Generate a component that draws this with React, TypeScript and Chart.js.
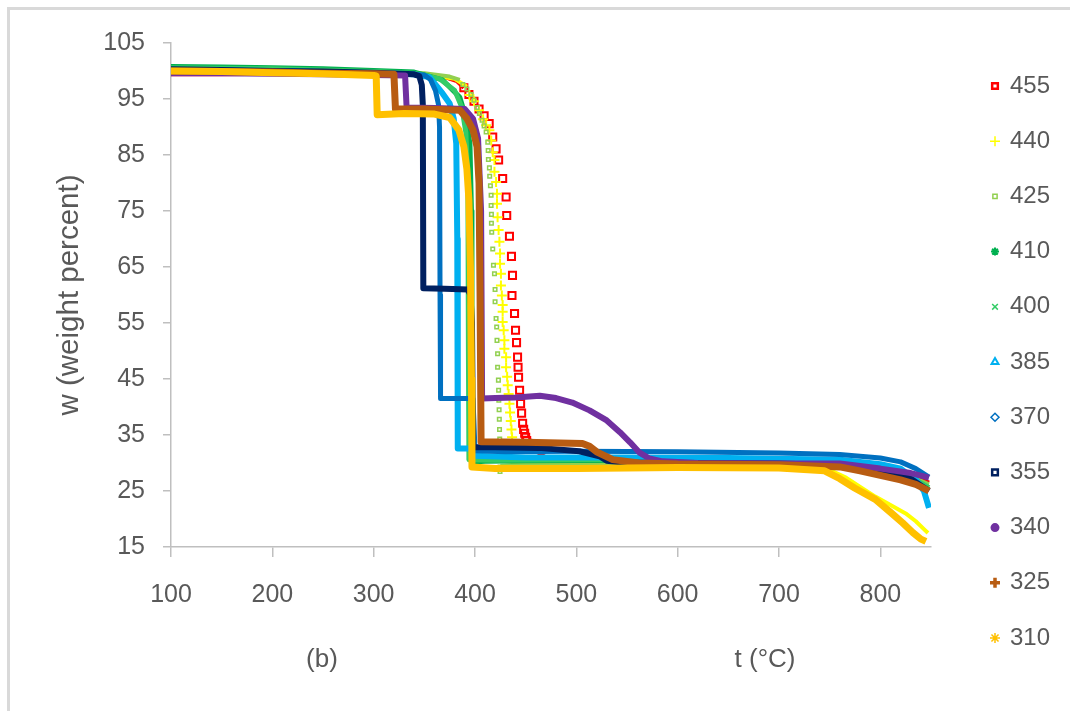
import React, { useEffect, useRef } from "react";
import { Chart, registerables } from "chart.js";
import { drawPoint } from "chart.js/helpers";

Chart.register(...registerables);

// ---------- data (x = temperature °C, y = weight percent) ----------
const xTicks = [100, 200, 300, 400, 500, 600, 700, 800];
const yTicks = [15, 25, 35, 45, 55, 65, 75, 85, 95, 105];
const seriesLabels = ["455", "440", "425", "410", "400", "385", "370", "355", "340", "325", "310"];

// 455 : dense plateau, discrete fall, dense residue
const s455Top: [number, number][] = [[100, 99.4], [150, 99.4], [200, 99.5], [250, 99.4], [300, 99.4], [340, 99.3], [370, 98.9], [382, 98.2], [389, 97.0]];
const s455Drop: [number, number][] = [[389, 97.0], [394, 95.8], [399, 94.6], [404, 93.2], [409, 92.0], [414, 90.6], [417.5, 88.2], [420.8, 86.1], [423.3, 84.1], [427.3, 80.8], [430.7, 77.5], [431.3, 74.2], [434, 70.5], [436, 66.9], [437, 63.5], [436.5, 59.9], [439, 56.7], [440, 53.7], [441, 51.5], [442, 48.9], [442.5, 47.1], [443, 45.3], [444, 43.0], [445, 40.6], [446, 38.9], [447, 37.1], [448, 36.0], [449, 35.3], [450, 34.6], [451, 34.0], [452, 33.5]];
const s455Base: [number, number][] = [[452, 33.0], [470, 31.0], [520, 30.6], [600, 30.5], [700, 30.4], [760, 30.2], [800, 29.2], [830, 28.0], [848, 26.5]];

// 440
const s440Top: [number, number][] = [[100, 99.9], [150, 99.9], [200, 99.8], [250, 99.7], [300, 99.6], [350, 99.4], [380, 98.6], [392, 97.2]];
const s440Drop: [number, number][] = [[394.5, 95.7], [399, 94.6], [404, 93.0], [408, 91.4], [411, 90.3], [414.2, 89.4], [416, 87.6], [417.5, 85.5], [419.2, 84.1], [419.2, 82.0], [420.8, 80.2], [421.7, 78.1], [421.7, 76.3], [422.3, 73.9], [423.3, 71.6], [424.1, 69.5], [424.7, 67.4], [424.7, 65.6], [425.6, 63.8], [425.6, 61.7], [426.5, 59.9], [427.3, 58.2], [427.3, 57.0], [427.3, 55.2], [428.3, 53.7], [429, 51.9], [429, 50.4], [430.7, 48.9], [430.7, 47.1], [431.7, 45.4], [432.3, 43.9], [433.2, 42.3], [434, 40.6], [434.6, 39.0], [435.3, 37.5], [436, 36.0], [436.6, 34.6]];
const s440Base: [number, number][] = [[437, 31.0], [460, 30.0], [520, 29.8], [600, 29.8], [700, 29.7], [745, 29.2], [765, 27.5], [782, 25.5], [795, 24.0], [810, 22.5], [825, 21.0], [835, 19.6], [843, 18.2], [847, 17.5]];

// 425
const s425Top: [number, number][] = [[100, 100.4], [150, 100.4], [200, 100.2], [250, 100.1], [300, 99.9], [350, 99.6], [375, 99.0], [385, 98.4]];
const s425Drop: [number, number][] = [[388, 97.6], [392, 96.8], [396, 95.8], [399, 94.8], [402, 93.5], [404.3, 92.4], [407, 91.2], [409, 90.2], [411, 89.1], [412.6, 87.3], [413, 85.8], [413.2, 84.2], [414.2, 82.7], [414.5, 81.2], [415.2, 79.5], [415.9, 77.8], [415.9, 76.0], [416.2, 74.4], [416.2, 72.8], [416.5, 71.2], [417.5, 68.2], [418.2, 65.3], [419.2, 63.8], [419.8, 61.0], [419.8, 58.8], [420.8, 55.8], [421.4, 54.3], [421.7, 51.9], [422.3, 49.5], [422.3, 47.1], [423.1, 44.8], [423.3, 43.0], [423.5, 41.2], [423.8, 39.5], [424, 37.8], [424.2, 36.0], [424.4, 34.3], [424.5, 32.6], [424.6, 30.9], [424.7, 29.3], [424.7, 28.5]];
const s425Base: [number, number][] = [[425, 29.5], [460, 29.9], [550, 30.0], [650, 30.0], [760, 29.8], [800, 28.8], [830, 27.6], [848, 26.2]];

// 410 .. 310 : dense traces
const s410: [number, number][] = [[100, 100.8], [150, 100.7], [200, 100.6], [250, 100.4], [300, 100.1], [340, 99.8], [368, 98.4], [385, 95.3], [391, 91.7], [395, 87.0], [396.5, 75.0], [397, 50], [397.5, 30.2], [410, 30.3], [450, 30.4], [550, 30.5], [650, 30.4], [760, 30.0], [800, 28.8], [830, 27.2], [848, 25.2]];
const s400: [number, number][] = [[100, 100.6], [150, 100.5], [200, 100.4], [250, 100.2], [300, 99.9], [340, 99.6], [365, 98.6], [380, 96.5], [387, 93.5], [391, 89.0], [393, 80], [393.5, 50], [394, 30.6], [420, 30.5], [500, 30.6], [600, 30.7], [700, 30.6], [760, 30.2], [800, 29.0], [830, 27.5], [848, 25.6]];
const s385: [number, number][] = [[100, 100.1], [150, 100.1], [200, 100.0], [250, 99.8], [300, 99.6], [340, 99.4], [355, 98.9], [368, 96.0], [375, 94.2], [379, 91.5], [381.5, 87], [382.5, 70], [383, 32.6], [397, 32.6], [400, 31.3], [450, 31.0], [550, 31.0], [650, 30.9], [760, 30.6], [800, 29.8], [820, 29.0], [835, 27.0], [843, 25.0], [848, 22.0]];
const s370: [number, number][] = [[100, 100.2], [150, 100.2], [200, 100.0], [250, 99.9], [300, 99.6], [350, 99.3], [356, 98.5], [361, 96.5], [364, 94.0], [365, 90], [365.5, 60], [366, 41.5], [398, 41.5], [399, 37], [400, 32.2], [430, 32.0], [500, 32.1], [600, 32.0], [700, 31.8], [760, 31.5], [800, 30.9], [820, 30.2], [835, 29.0], [848, 27.5]];
const s355: [number, number][] = [[100, 100.3], [150, 100.2], [200, 100.0], [250, 99.9], [300, 99.7], [340, 99.4], [345, 99.1], [347.5, 97.5], [348.5, 94], [349, 61.2], [370, 61.1], [393, 61.0], [395.5, 60], [397, 55], [398, 32.8], [420, 32.8], [463, 32.7], [503, 32.1], [523, 31.2], [530, 30.4], [545, 30.1], [620, 30.0], [700, 29.9], [760, 29.6], [800, 28.6], [830, 27.2], [848, 25.0]];
const s340: [number, number][] = [[100, 99.6], [150, 99.6], [200, 99.5], [250, 99.4], [300, 99.3], [331, 99.2], [332.5, 93.5], [360, 93.4], [390, 93.2], [398, 91.5], [403, 88.0], [406, 75], [407, 41.5], [420, 41.6], [440, 41.7], [464, 42.0], [480, 41.6], [496, 40.8], [513, 39.4], [530, 37.6], [543, 35.5], [553, 33.7], [562, 31.9], [572, 30.8], [585, 30.3], [620, 30.0], [700, 29.9], [760, 29.9], [800, 29.0], [830, 28.2], [848, 27.4]];
const s325: [number, number][] = [[100, 100.0], [150, 99.9], [200, 99.8], [250, 99.6], [300, 99.5], [320, 99.4], [321.5, 93.2], [350, 93.2], [385, 93.0], [392, 91.5], [398, 89.5], [402, 86.5], [404, 80], [405, 60], [406, 33.8], [450, 33.7], [506, 33.5], [513, 33.0], [520, 32.0], [536, 30.6], [562, 30.0], [600, 29.8], [700, 29.7], [760, 29.3], [780, 28.6], [800, 27.8], [820, 27.0], [835, 26.2], [848, 25.0]];
const s310: [number, number][] = [[100, 100.0], [150, 99.9], [200, 99.7], [250, 99.5], [300, 99.2], [302.5, 99.1], [303.5, 92.2], [330, 92.4], [360, 92.3], [375, 91.7], [384, 89.5], [389, 86.5], [392, 82.5], [394, 77], [395.5, 65], [396.5, 45], [397, 29.3], [420, 29.0], [500, 29.0], [600, 29.2], [700, 29.1], [745, 28.6], [760, 27.2], [775, 25.5], [795, 23.5], [810, 21.2], [822, 19.3], [832, 17.6], [840, 16.4], [845, 16.0]];

// ---------- styles ----------
const TEXT = "#595959";
const AXIS = "#BFBFBF";
const FONT = "'Liberation Sans', Arial, sans-serif";

const colors: Record<string, string> = {
  "455": "#FF0000", "440": "#FFFF00", "425": "#92D050", "410": "#00B050", "400": "#33CC66",
  "385": "#00B0F0", "370": "#0070C0", "355": "#002060", "340": "#7030A0", "325": "#B85C12", "310": "#FFC000",
};
const legendStyles: Record<string, { style: string; r: number; w: number; fill: boolean }> = {
  "455": { style: "rect", r: 4, w: 2.5, fill: false },
  "440": { style: "cross", r: 5, w: 1.5, fill: false },
  "425": { style: "rect", r: 3, w: 1.5, fill: false },
  "410": { style: "star", r: 4, w: 2, fill: false },
  "400": { style: "crossRot", r: 4, w: 1.5, fill: false },
  "385": { style: "triangle", r: 4, w: 2, fill: false },
  "370": { style: "rectRot", r: 4, w: 1.5, fill: false },
  "355": { style: "rect", r: 4, w: 2.5, fill: false },
  "340": { style: "circle", r: 3.5, w: 2, fill: true },
  "325": { style: "cross", r: 5, w: 3.5, fill: false },
  "310": { style: "star", r: 5, w: 1.5, fill: false },
};

const pts = (a: [number, number][]) => a.map(([x, y]) => ({ x, y }));
const orderOf = (label: string) => 10 - seriesLabels.indexOf(label);

function lineDs(label: string, data: [number, number][], width: number) {
  return {
    label,
    data: pts(data),
    showLine: true,
    borderColor: colors[label],
    backgroundColor: colors[label],
    borderWidth: width,
    pointRadius: 0,
    tension: 0,
    borderJoinStyle: "round" as const,
    order: orderOf(label),
  };
}
function markDs(label: string, data: [number, number][], style: string, r: number, w: number) {
  return {
    label,
    data: pts(data),
    showLine: false,
    pointStyle: style,
    pointRadius: r,
    pointBorderWidth: w,
    pointBorderColor: colors[label],
    pointBackgroundColor: "rgba(255,255,255,0)",
    borderColor: colors[label],
    backgroundColor: "rgba(255,255,255,0)",
    order: orderOf(label) - 0.5,
  };
}

const LEGEND_MARK_X = 995;
const LEGEND_TEXT_X = 1010;
const LEGEND_TOP = 86;
const LEGEND_STEP = 55.2;

const overlayPlugin = {
  id: "overlay",
  afterDraw(chart: any) {
    const ctx = chart.ctx as CanvasRenderingContext2D;
    ctx.save();
    seriesLabels.forEach((label, i) => {
      const y = LEGEND_TOP + i * LEGEND_STEP;
      const st = legendStyles[label];
      ctx.strokeStyle = colors[label];
      ctx.fillStyle = st.fill ? colors[label] : "#FFFFFF";
      ctx.lineWidth = st.w;
      drawPoint(ctx, { pointStyle: st.style as any, radius: st.r, borderWidth: st.w, rotation: 0 } as any, LEGEND_MARK_X, y);
      ctx.fillStyle = TEXT;
      ctx.font = `24px ${FONT}`;
      ctx.textAlign = "left";
      ctx.textBaseline = "middle";
      ctx.fillText(label, LEGEND_TEXT_X, y);
    });
    ctx.font = `26px ${FONT}`;
    ctx.fillStyle = TEXT;
    ctx.textAlign = "center";
    ctx.textBaseline = "middle";
    ctx.fillText("(b)", 322, 660);
    ctx.fillText("t (°C)", 765, 660);
    ctx.restore();
  },
};

export default function App() {
  const ref = useRef<HTMLCanvasElement>(null);
  useEffect(() => {
    if (!ref.current) return;
    const datasets: any[] = [
      lineDs("455", s455Top, 4), markDs("455", s455Drop, "rect", 5, 2), lineDs("455", s455Base, 4),
      lineDs("440", s440Top, 4), markDs("440", s440Drop, "cross", 5, 2), lineDs("440", s440Base, 4),
      lineDs("425", s425Top, 4), markDs("425", s425Drop, "rect", 2.5, 1.5), lineDs("425", s425Base, 4),
      lineDs("410", s410, 5),
      lineDs("400", s400, 5),
      lineDs("385", s385, 6),
      lineDs("370", s370, 5),
      lineDs("355", s355, 6),
      lineDs("340", s340, 6),
      lineDs("325", s325, 7),
      lineDs("310", s310, 7),
    ];
    const chart = new Chart(ref.current, {
      type: "scatter",
      data: { datasets },
      plugins: [overlayPlugin],
      options: {
        responsive: false,
        maintainAspectRatio: false,
        animation: false,
        devicePixelRatio: 1,
        layout: { padding: { top: 43, right: 139, left: 0, bottom: 0 } },
        plugins: { legend: { display: false }, tooltip: { enabled: false } },
        scales: {
          x: {
            type: "linear",
            min: 100,
            max: 850,
            afterBuildTicks: (s: any) => { s.ticks = xTicks.map((v) => ({ value: v })); },
            afterFit: (s: any) => { s.height = 164; },
            grid: { drawOnChartArea: false, drawTicks: true, tickLength: 10, color: AXIS, lineWidth: 1.5 },
            border: { color: AXIS, width: 1.5 },
            ticks: { color: TEXT, font: { family: FONT, size: 25 }, padding: 23, maxRotation: 0, autoSkip: false },
          },
          y: {
            type: "linear",
            min: 15,
            max: 105,
            afterBuildTicks: (s: any) => { s.ticks = yTicks.map((v) => ({ value: v })); },
            afterFit: (s: any) => { s.width = 171; },
            grid: { drawOnChartArea: false, drawTicks: true, tickLength: 8, color: AXIS, lineWidth: 1.5 },
            border: { color: AXIS, width: 1.5 },
            ticks: { color: TEXT, font: { family: FONT, size: 25 }, padding: 18, autoSkip: false },
            title: { display: true, text: "w (weight percent)", color: TEXT, font: { family: FONT, size: 29.5 }, padding: { top: 52, bottom: 0 } },
          },
        },
      } as any,
    });
    return () => chart.destroy();
  }, []);
  return (
    <div style={{ position: "fixed", left: 0, top: 0, width: 1070, height: 711, overflow: "hidden", background: "#FFFFFF" }}>
      <div style={{ position: "absolute", left: 7, top: 7, width: 1200, height: 900, border: "3px solid #D9D9D9" }} />
      <canvas ref={ref} width={1070} height={711} style={{ position: "absolute", left: 0, top: 0 }} />
    </div>
  );
}
